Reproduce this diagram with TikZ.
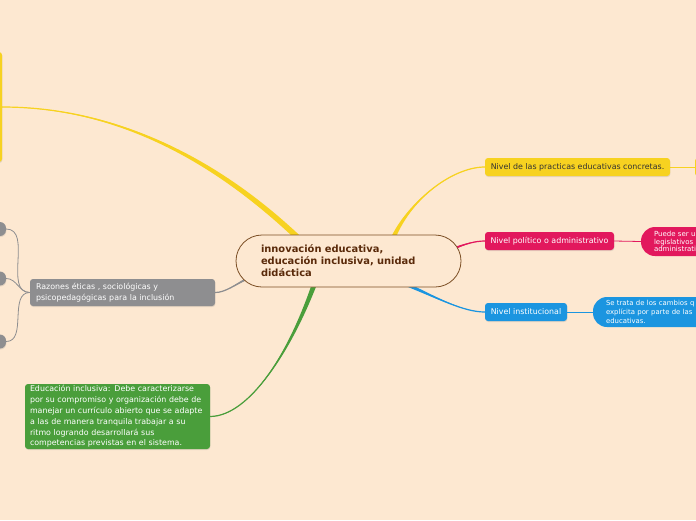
\documentclass[tikz,border=0pt]{standalone}
\usepackage{fontspec}
\setmainfont{DejaVu Sans}
\usetikzlibrary{calc,backgrounds,shadows}

\begin{document}
\begin{tikzpicture}[x=1pt,y=-1pt,
    topic/.style={rounded corners=3pt,inner sep=0,minimum height=18pt,
      drop shadow={shadow xshift=0.4pt,shadow yshift=-1pt,opacity=0.2},
      font=\fontsize{7.9}{10.8}\selectfont},
    note/.style={rounded corners=14pt,inner sep=0,text=white,align=left,
      font=\fontsize{7}{7.8}\selectfont},
    twig/.style={line width=0.8pt}]
    \definecolor{bg}{RGB}{253,232,209}
    \definecolor{brn}{RGB}{123,78,36}
    \definecolor{brtx}{RGB}{90,42,10}
    \definecolor{ylw}{RGB}{247,210,32}
    \definecolor{pnk}{RGB}{226,24,93}
    \definecolor{blu}{RGB}{27,149,224}
    \definecolor{gry}{RGB}{142,142,144}
    \definecolor{grn}{RGB}{74,158,59}
    \useasboundingbox (0,0) rectangle (696,520);

    % central topic
    \node[draw=brn,line width=0.8pt,fill=bg,rounded corners=26pt,minimum height=52pt,
      text width=175pt,inner xsep=25pt,inner ysep=0,align=left,text=brtx,
      font=\bfseries\fontsize{9.9}{12}\selectfont] (root) at (348.5,261)
      {innovación educativa,\\educación inclusiva, unidad\\didáctica};

    % main topics
    \node[topic,fill=ylw,minimum width=30pt,minimum height=110pt] (lft) at (-13,107) {};
    \node[topic,fill=ylw,minimum width=185pt,text=black!80] (prac) at (577.5,167)
      {Nivel de las practicas educativas concretas.};
    \node[topic,fill=pnk,minimum width=129pt,text=white] (pol) at (549.5,241)
      {Nivel político o administrativo};
    \node[topic,fill=blu,minimum width=82pt,text=white] (inst) at (526,312)
      {Nivel institucional};
    \node[topic,fill=gry,text=white,text width=173pt,inner xsep=6pt,minimum height=27pt,
      align=left] (raz) at (122.5,292.5)
      {Razones éticas , sociológicas y\\psicopedagógicas para la inclusión};
    \node[topic,fill=grn,text=white,text width=175pt,inner xsep=5pt,minimum height=65pt,
      align=left] (edu) at (117.5,416.5)
      {Educación inclusiva: Debe caracterizarse\\por su compromiso y organización debe de\\manejar un currículo abierto que se adapte\\a las de manera tranquila trabajar a su\\ritmo logrando desarrollará sus\\competencias previstas en el sistema.};

    % subtopics
    \node[topic,fill=ylw,minimum width=80pt] (pracsub) at (735,167) {};
    \node[note,fill=pnk,minimum height=29pt,text width=100pt,inner xsep=13pt] (polsub) at (704,241.5)
      {Puede ser u\\legislativos\\administrati};
    \node[note,fill=blu,minimum height=30pt,text width=100pt,inner xsep=13pt,
      font=\fontsize{6.9}{9}\selectfont] (instsub) at (656,312)
      {Se trata de los cambios q\\explícita por parte de las\\educativas.};
    \node[topic,fill=gry,rounded corners=6pt,minimum width=40pt,minimum height=14pt] (g1) at (-14,229) {};
    \node[topic,fill=gry,rounded corners=6pt,minimum width=40pt,minimum height=14pt] (g2) at (-14,278.5) {};
    \node[topic,fill=gry,rounded corners=6pt,minimum width=40pt,minimum height=14pt] (g3) at (-14,341.5) {};

    \begin{scope}[on background layer]
      \fill[bg] (0,0) rectangle (696,520);
      % branches, thick at the root
      \fill[ylw] (lft.east) .. controls (130,107) and (232,170) .. ($(root)+(-43,-20)$)
        -- ($(root)+(-47,-16)$) .. controls (228,174) and (130,108) .. (lft.east) -- cycle;
      \draw[ylw,line width=1.2pt] (lft.east) .. controls (130,107) and (230,172) .. ($(root)+(-45,-18)$);
      \fill[ylw] (prac.west) .. controls (450,167) and (405,205) .. ($(root)+(44.4,-15.1)$)
        -- ($(root)+(39.6,-16.9)$) .. controls (403,205) and (450,168) .. (prac.west) -- cycle;
      \draw[ylw,line width=1.2pt] (prac.west) .. controls (450,167) and (404,205) .. ($(root)+(42,-16)$);
      \fill[pnk] (pol.west) .. controls (475,241) and (465,244) .. ($(root)+(102.3,-9.6)$)
        -- ($(root)+(101.7,-12.4)$) .. controls (465,243) and (475,241) .. (pol.west) -- cycle;
      \draw[pnk,line width=1.2pt] (pol.west) .. controls (475,241) and (465,244) .. ($(root)+(102,-11)$);
      \fill[blu] (inst.west) .. controls (465,312) and (440,300) .. ($(root)+(54.1,23.8)$)
        -- ($(root)+(55.9,20.2)$) .. controls (440,299) and (465,312) .. (inst.west) -- cycle;
      \draw[blu,line width=1.2pt] (inst.west) .. controls (465,312) and (440,300) .. ($(root)+(55,22)$);
      \fill[gry] (raz.east) .. controls (225,292.5) and (235,285) .. ($(root)+(-99.5,18.1)$)
        -- ($(root)+(-100.5,15.9)$) .. controls (235,284) and (225,292.5) .. (raz.east) -- cycle;
      \draw[gry,line width=1.2pt] (raz.east) .. controls (225,292.5) and (235,285) .. ($(root)+(-100,17)$);
      \fill[grn] (edu.east) .. controls (250,416) and (292,350) .. ($(root)+(-30.6,20.8)$)
        -- ($(root)+(-35.4,19.2)$) .. controls (290,350) and (250,417) .. (edu.east) -- cycle;
      \draw[grn,line width=1.2pt] (edu.east) .. controls (250,416) and (291,350) .. ($(root)+(-33,20)$);
      % twigs
      \draw[ylw,twig] (prac.east) -- (pracsub.west);
      \draw[pnk,twig] (pol.east) -- (polsub.west);
      \draw[blu,twig] (inst.east) -- (instsub.west);
      \draw[gry,twig] (raz.west) to[out=180,in=0] (g1.east);
      \draw[gry,twig] (raz.west) to[out=180,in=0] (g2.east);
      \draw[gry,twig] (raz.west) to[out=180,in=0] (g3.east);
    \end{scope}
  \end{tikzpicture}
\end{document}
